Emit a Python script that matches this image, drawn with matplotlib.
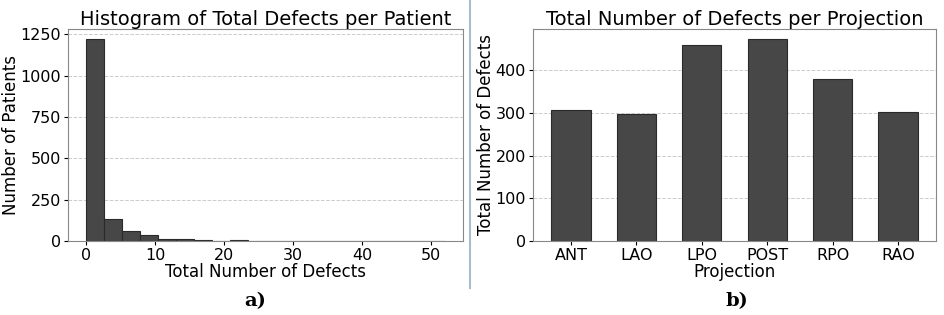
import numpy as np
import matplotlib.pyplot as plt
from matplotlib.lines import Line2D

# histogram of total defects per patient (20 bins over 0..52)
bin_edges = np.linspace(0, 52, 21)
patient_counts = [1220, 133, 62, 36, 14, 13, 7, 2, 4, 2, 3, 1, 0, 2, 0, 0, 1, 0, 0, 1]

# defects per projection
projections = ['ANT', 'LAO', 'LPO', 'POST', 'RPO', 'RAO']
defect_totals = [308, 298, 460, 473, 379, 302]

BAR = '#474747'
EDGE = '#2a2a2a'

fig = plt.figure(figsize=(9.45, 3.15), dpi=100)

W, H = 945, 315
ax1 = fig.add_axes([68 / W, 1 - 241 / H, (463 - 68) / W, (241 - 29) / H])
ax2 = fig.add_axes([533 / W, 1 - 241 / H, (936 - 533) / W, (241 - 29) / H])

# a) histogram
ax1.hist(bin_edges[:-1], bins=bin_edges, weights=patient_counts,
         color=BAR, edgecolor=EDGE, linewidth=0.8)
ax1.set_title('Histogram of Total Defects per Patient', fontsize=14, pad=3)
ax1.set_xlabel('Total Number of Defects', fontsize=12, labelpad=0)
ax1.set_ylabel('Number of Patients', fontsize=12)
ax1.yaxis.set_label_coords(-0.122, 0.5)
ax1.set_yticks([0, 250, 500, 750, 1000, 1250])

# b) bar chart
x = np.arange(len(projections))
ax2.bar(x, defect_totals, width=0.6, color=BAR, edgecolor=EDGE, linewidth=0.8)
ax2.set_xticks(x)
ax2.set_xticklabels(projections)
ax2.set_title('Total Number of Defects per Projection', fontsize=14, pad=3)
ax2.set_xlabel('Projection', fontsize=12, labelpad=0)
ax2.set_ylabel('Total Number of Defects', fontsize=12)
ax2.yaxis.set_label_coords(-0.094, 0.5)
ax2.set_yticks([0, 100, 200, 300, 400])

for ax in (ax1, ax2):
    ax.tick_params(labelsize=11.5, length=3, pad=2)
    ax.grid(axis='y', linestyle='--', color='#cccccc', linewidth=0.7)
    ax.set_axisbelow(True)
    for s in ax.spines.values():
        s.set_color('#888888')

# separator between panels
fig.add_artist(Line2D([470 / W, 470 / W], [1 - 288 / H, 1.0],
                      color='#a9bccb', linewidth=1.5))

fig.text(255 / W, 1 - 301 / H, 'a)', ha='center', va='center',
         fontsize=14, fontweight='bold', family='DejaVu Serif')
fig.text(737 / W, 1 - 301 / H, 'b)', ha='center', va='center',
         fontsize=14, fontweight='bold', family='DejaVu Serif')

fig.savefig('out.png', dpi=100)
